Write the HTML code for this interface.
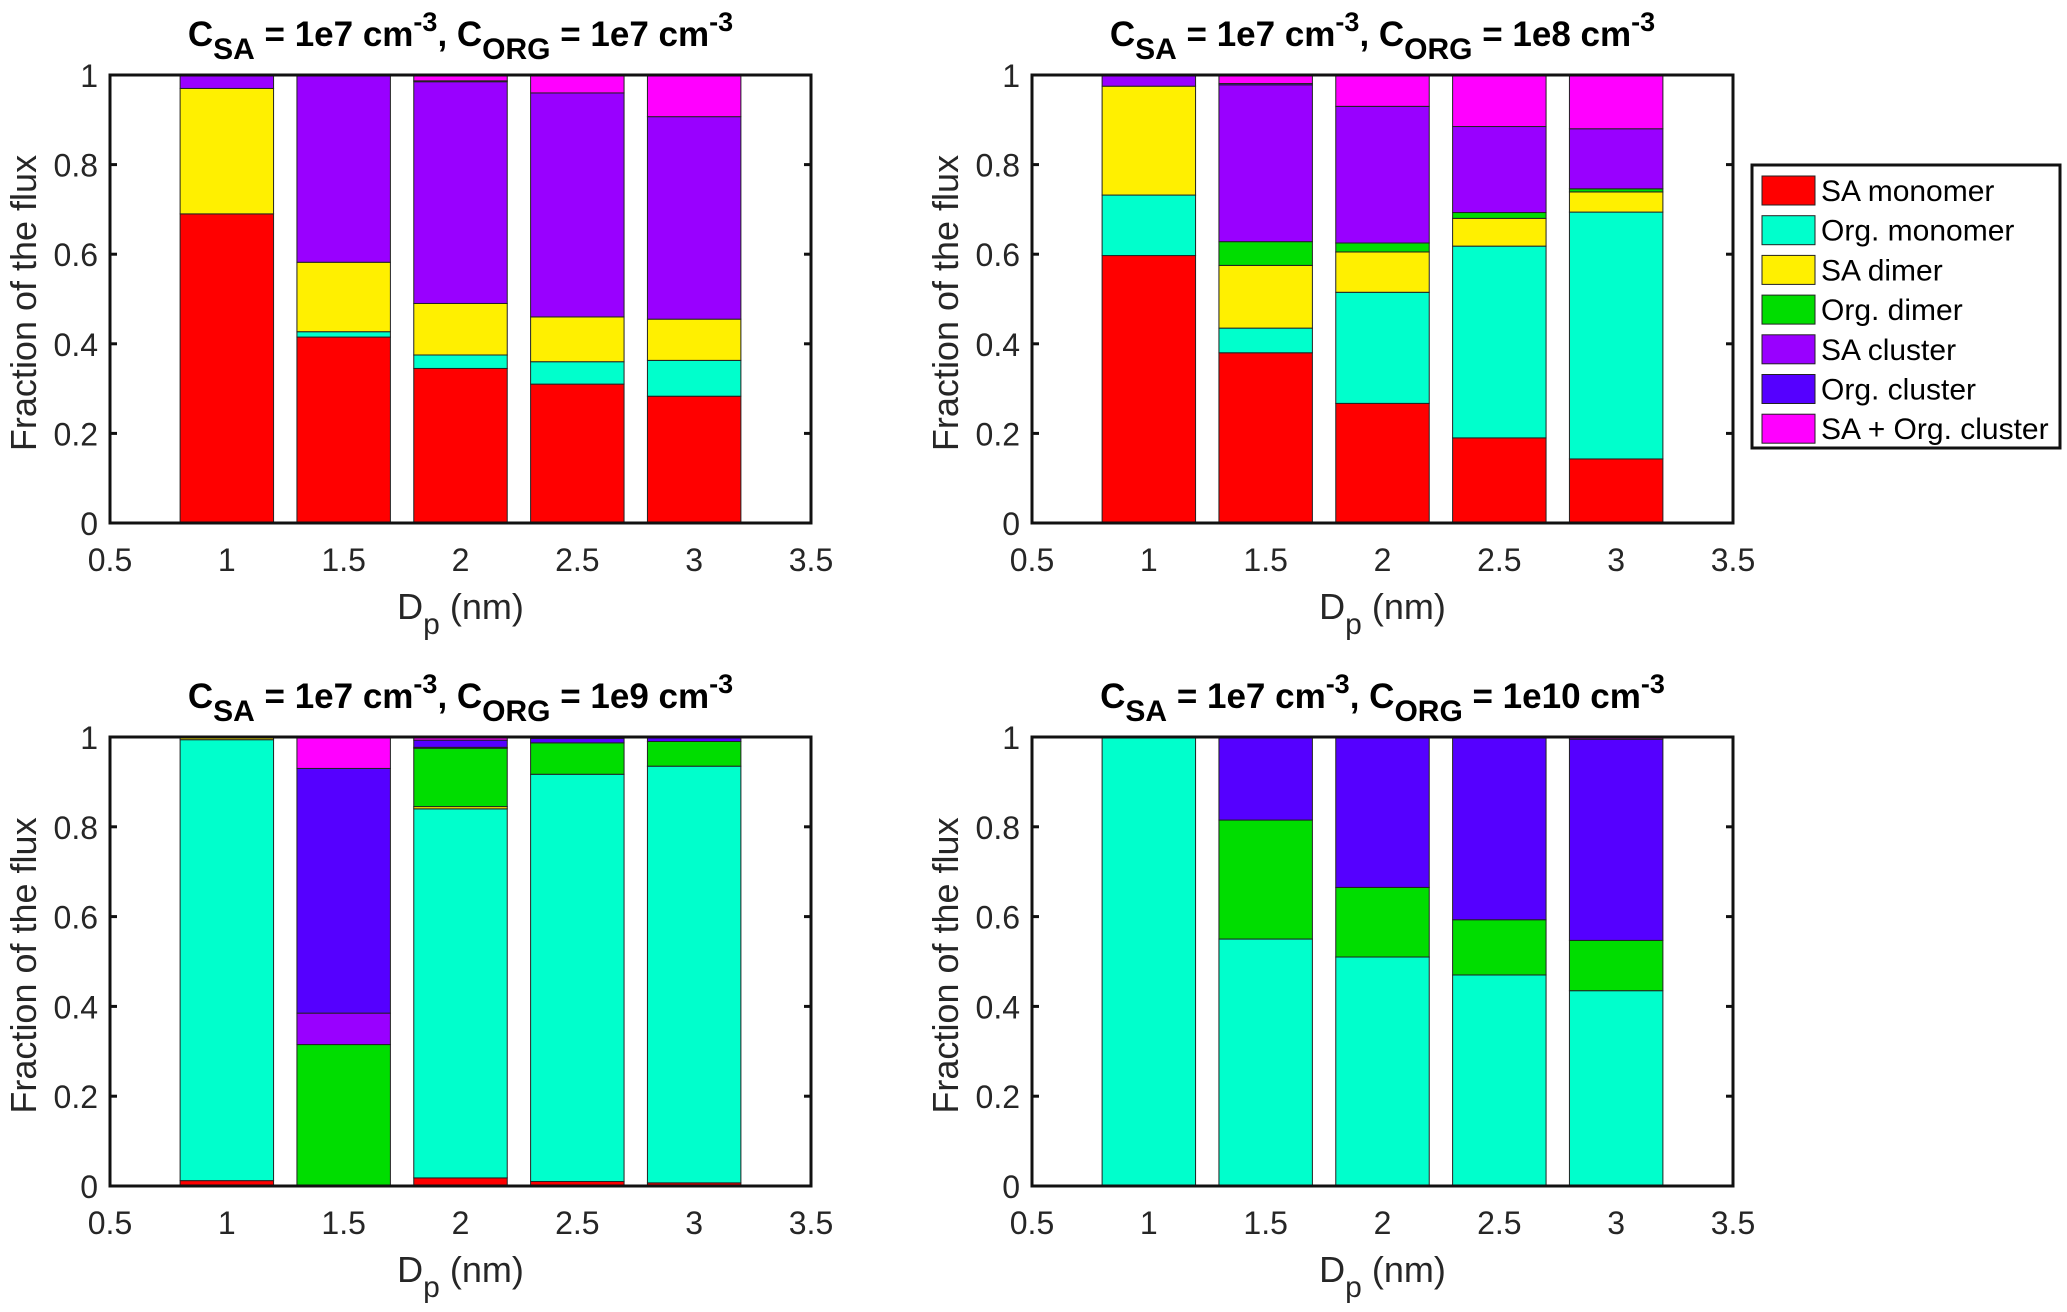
<!DOCTYPE html>
<html><head><meta charset="utf-8"><style>
html,body{margin:0;padding:0;background:#fff;}
svg{display:block;font-family:"Liberation Sans",Arial,sans-serif;}
</style></head><body>
<svg id="fig" width="2067" height="1312" viewBox="0 0 2067 1312" xmlns="http://www.w3.org/2000/svg"></svg>
<script>
const categories = [1, 1.5, 2, 2.5, 3];
const seriesNames = ["SA monomer","Org. monomer","SA dimer","Org. dimer","SA cluster","Org. cluster","SA + Org. cluster"];
const seriesColors = ["#ff0000","#00ffcc","#fff000","#00dd00","#9900ff","#5500ff","#ff00ff"];
const xTicks = [0.5,1,1.5,2,2.5,3,3.5];
const xTickLabels = ["0.5","1","1.5","2","2.5","3","3.5"];
const yTicks = [0,0.2,0.4,0.6,0.8,1];
const yTickLabels = ["0","0.2","0.4","0.6","0.8","1"];
const titlesOrg = ["1e7","1e8","1e9","1e10"];
const panel1 = [
  [0.69,0,0.28,0,0.03,0,0],
  [0.415,0.012,0.155,0,0.418,0,0],
  [0.345,0.03,0.115,0,0.495,0.002,0.013],
  [0.31,0.05,0.1,0,0.5,0,0.04],
  [0.283,0.08,0.092,0,0.452,0,0.093]
];
const panel2 = [
  [0.597,0.135,0.243,0,0.025,0,0],
  [0.38,0.055,0.14,0.053,0.35,0.003,0.019],
  [0.267,0.248,0.09,0.02,0.305,0,0.07],
  [0.19,0.428,0.062,0.013,0.192,0,0.115],
  [0.143,0.551,0.045,0.007,0.134,0,0.12]
];
const panel3 = [
  [0.012,0.982,0.005,0,0,0,0.001],
  [0,0,0,0.315,0.07,0.545,0.07],
  [0.018,0.822,0.005,0.13,0.002,0.016,0.007],
  [0.01,0.907,0,0.07,0,0.01,0.003],
  [0.007,0.928,0,0.055,0,0.008,0.002]
];
const panel4 = [
  [0,1,0,0,0,0,0],
  [0,0.55,0,0.265,0,0.185,0],
  [0,0.51,0,0.155,0,0.335,0],
  [0,0.47,0,0.123,0,0.407,0],
  [0,0.435,0,0.112,0,0.448,0.005]
];
const panels = [panel1,panel2,panel3,panel4];

const NS="http://www.w3.org/2000/svg";
const svg=document.getElementById('fig');
function mk(tag,attrs,parent){const e=document.createElementNS(NS,tag);for(const k in attrs)e.setAttribute(k,attrs[k]);(parent||svg).appendChild(e);return e;}

const layouts=[{x0:110,x1:811,y0:75,y1:523},{x0:1032,x1:1733,y0:75,y1:523},{x0:110,x1:811,y0:737,y1:1186},{x0:1032,x1:1733,y0:737,y1:1186}];

panels.forEach((data,pi)=>{
  const L=layouts[pi];
  const g=mk('g',{});
  
  
  const xs=v=>L.x0+(v-0.5)/3*(L.x1-L.x0);
  const ys=v=>L.y1-v*(L.y1-L.y0);
  mk('rect',{x:L.x0,y:L.y0,width:L.x1-L.x0,height:L.y1-L.y0,fill:'#fff'},g);
  data.forEach((row,ci)=>{
    let acc=0;
    row.forEach((v,si)=>{
      if(v<=0)return;
      const r=mk('rect',{x:xs(categories[ci]-0.2),y:ys(acc+v),width:xs(categories[ci]+0.2)-xs(categories[ci]-0.2),height:ys(acc)-ys(acc+v),fill:seriesColors[si],stroke:'#222','stroke-width':1},g);
      
      
      acc+=v;
    });
  });
  mk('rect',{x:L.x0,y:L.y0,width:L.x1-L.x0,height:L.y1-L.y0,fill:'none',stroke:'#111','stroke-width':3},g);
  yTicks.forEach((t,i)=>{
    mk('line',{x1:L.x0,x2:L.x0+7,y1:ys(t),y2:ys(t),stroke:'#111','stroke-width':3},g);
    mk('line',{x1:L.x1-7,x2:L.x1,y1:ys(t),y2:ys(t),stroke:'#111','stroke-width':3},g);
    const tx=mk('text',{x:L.x0-12,y:ys(t)+12,'text-anchor':'end','font-size':32,fill:'#262626'},g);
    tx.textContent=yTickLabels[i];
    
    
  });
  xTicks.forEach((t,i)=>{
    const tx=mk('text',{x:xs(t),y:L.y1+48,'text-anchor':'middle','font-size':32,fill:'#262626'},g);
    tx.textContent=xTickLabels[i];
    
    
  });
  const xl=mk('text',{x:(L.x0+L.x1)/2,y:L.y1+96,'text-anchor':'middle','font-size':36,fill:'#262626'},g);
  xl.innerHTML='D<tspan dy="15" font-size="30">p</tspan><tspan dy="-15"> (nm)</tspan>';
  
  
  const yx = pi%2==1 ? 958 : 36;
  const yl=mk('text',{x:0,y:0,'text-anchor':'middle','font-size':36,fill:'#262626',transform:`translate(${yx},${(L.y0+L.y1)/2+4}) rotate(-90)`},g);
  yl.textContent='Fraction of the flux';
  
  
  const tt=mk('text',{x:(L.x0+L.x1)/2,y:L.y0-29,'text-anchor':'middle','font-size':35,'font-weight':'bold',fill:'#000'},g);
  tt.innerHTML='C<tspan dy="13" font-size="30">SA</tspan><tspan dy="-13"> = 1e7 cm</tspan><tspan dy="-15" font-size="27">-3</tspan><tspan dy="15">, C</tspan><tspan dy="13" font-size="30">ORG</tspan><tspan dy="-13"> = '+titlesOrg[pi]+' cm</tspan><tspan dy="-15" font-size="27">-3</tspan>';
  
  
});

const lg=mk('g',{});


mk('rect',{x:1752,y:165,width:2060-1752,height:283,fill:'#fff',stroke:'#111','stroke-width':3},lg);
seriesNames.forEach((n,i)=>{
  const cy=190+i*39.7;
  const sw=mk('rect',{x:1762,y:cy-14,width:53,height:29,fill:seriesColors[i],stroke:'#222','stroke-width':1},lg);
  
  
  const t=mk('text',{x:1821,y:cy+11,'font-size':30,fill:'#000'},lg);
  t.textContent=n;
  
  
});
</script>
</body></html>
